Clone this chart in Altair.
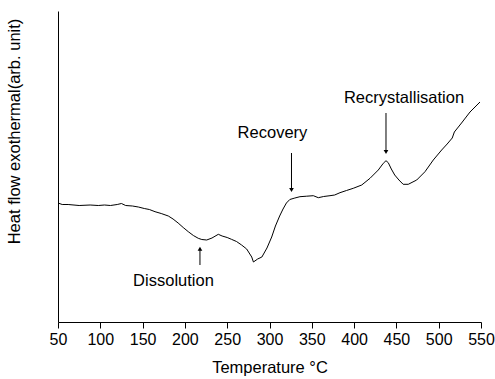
import altair as alt
import pandas as pd

# DSC trace: temperature (°C) vs heat flow (arbitrary units)
temperature = [50, 55, 62, 75, 88, 97.6, 105, 112, 120, 125, 130, 138, 145, 152, 158, 164.7,
               172, 180.4, 186, 192, 198, 204, 210, 215.8, 220, 225.8, 232, 239.5, 244, 250,
               255, 261, 267, 273, 279, 281, 286, 291, 297, 302.6, 307, 312, 316, 320, 324,
               330, 336, 344, 351.8, 357.7, 364, 371.5, 377, 383.3, 391, 399, 409, 418.8,
               428.6, 434.5, 437.7, 440.4, 444, 448, 453, 458, 464, 474, 483.8, 493.6,
               503.5, 510, 516, 518.5, 527, 537, 548.8]
heat_flow = [119, 117.5, 117.5, 116.5, 117, 116.5, 117, 116.5, 117.5, 118.5, 116.5, 116, 115, 113.5, 112.5, 110.3,
             108.5, 106, 103, 99, 94.5, 90.3, 86.5, 83.7, 82.5, 82, 84, 87.7, 86, 84.5,
             82.7, 80.5, 77, 73, 65, 60, 63, 65, 74, 85, 96, 106, 113, 119, 122.5,
             124, 125.3, 125.8, 126.3, 124.3, 125.5, 126.3, 127, 129.3, 131.5, 133.7, 137, 143.7,
             152, 158.7, 161.3, 159.3, 153, 147, 142, 137.7, 137.7, 142, 150.3, 162,
             172, 178, 184, 190, 199, 210, 220]

labels = ["Dissolution", "Recovery", "Recrystallisation"]
label_t = [186.5, 303.5, 459]
label_y = [41, 189, 224]
arrow_t = [217.8, 326, 437.7]
arrow_tail = [57, 169, 209]
arrow_tip = [76.3, 129, 167]
arrow_dir = ["triangle-up", "triangle-down", "triangle-down"]

major_ticks = [50, 100, 150, 200, 250, 300, 350, 400, 450, 500, 550]
minor_ticks = [75, 125, 175, 225, 275, 325, 375, 425, 475, 525]

FONT = "Liberation Sans"
TEXT_SIZE = 16.5

curve = pd.DataFrame({"T": temperature, "H": heat_flow})
notes = pd.DataFrame({"label": labels, "t": label_t, "y": label_y})
arrows = pd.DataFrame({"t": arrow_t, "tail": arrow_tail, "tip": arrow_tip, "shape": arrow_dir})
arrows["head"] = [tip + (-3 if s == "triangle-up" else 3) for tip, s in zip(arrow_tip, arrow_dir)]

xscale = alt.Scale(domain=[50, 550], nice=False, zero=False)
yscale = alt.Scale(domain=[0, 311], nice=False, zero=False)

xaxis = alt.Axis(
    values=major_ticks + minor_ticks,
    labelExpr="datum.value % 50 === 0 ? datum.label : ''",
    tickSize=alt.condition("datum.value % 50 === 0", alt.value(6), alt.value(4)),
    title="Temperature °C",
    grid=False,
    labelFont=FONT, labelFontSize=16, labelColor="black", labelPadding=3,
    titleFont=FONT, titleFontSize=TEXT_SIZE, titleFontWeight="normal", titleColor="black",
    titlePadding=12,
    domainColor="black", tickColor="black", labelFlush=False,
)
yaxis = alt.Axis(
    title="Heat flow exothermal(arb. unit)",
    labels=False, ticks=False, grid=False,
    titleFont=FONT, titleFontSize=TEXT_SIZE, titleFontWeight="normal", titleColor="black",
    titleY=120, titleX=-36, titleAnchor="middle",
    domainColor="black",
)

line = alt.Chart(curve).mark_line(color="black", strokeWidth=1).encode(
    x=alt.X("T:Q", scale=xscale, axis=xaxis),
    y=alt.Y("H:Q", scale=yscale, axis=yaxis),
)

text = alt.Chart(notes).mark_text(font=FONT, fontSize=TEXT_SIZE, color="black").encode(
    x=alt.X("t:Q", scale=xscale),
    y=alt.Y("y:Q", scale=yscale),
    text="label:N",
)

shafts = alt.Chart(arrows).mark_rule(color="black", strokeWidth=1).encode(
    x=alt.X("t:Q", scale=xscale),
    y=alt.Y("tail:Q", scale=yscale),
    y2="head:Q",
)

heads = alt.Chart(arrows).mark_point(filled=True, color="black", size=22, opacity=1).encode(
    x=alt.X("t:Q", scale=xscale),
    y=alt.Y("head:Q", scale=yscale),
    shape=alt.Shape("shape:N", scale=None, legend=None),
)

chart = alt.layer(line, shafts, heads, text).properties(
    width=423, height=311,
    autosize=alt.AutoSizeParams(type="none"),
    padding={"left": 58, "top": 11, "right": 14, "bottom": 57},
    background="white",
).configure_view(stroke=None)

chart.save("out.html", embed_options={"renderer": "svg", "actions": False})
